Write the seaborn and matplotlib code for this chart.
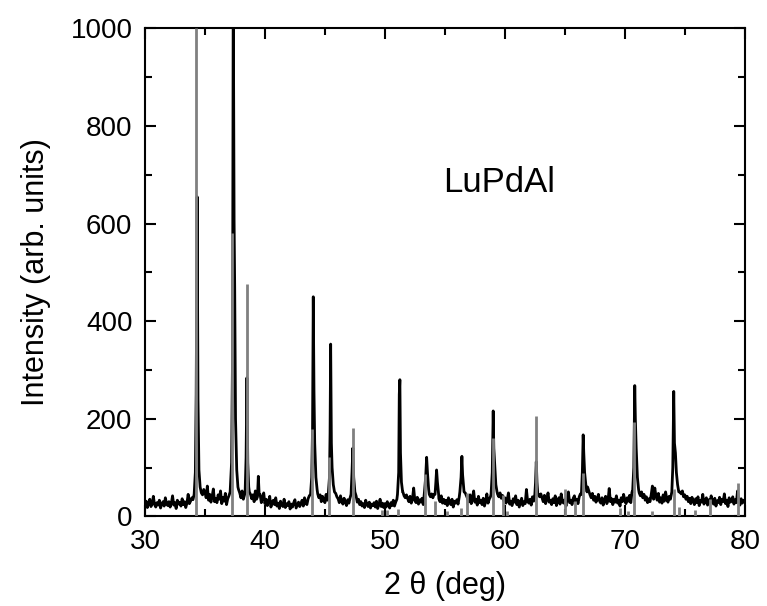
import numpy as np
import pandas as pd
import matplotlib
matplotlib.use("Agg")
import matplotlib.pyplot as plt
import seaborn as sns

# ---------------- data ----------------
# measured background intensity, 0.1 deg steps from 30.0 to 80.0
bg_start, bg_step = 30.0, 0.1
background = [
    22, 31, 18, 27, 35, 20, 26, 41, 24, 19,
    28, 23, 33, 17, 25, 30, 21, 38, 26, 22,
    30, 19, 27, 42, 23, 28, 16, 33, 25, 29,
    21, 36, 24, 30, 18, 27, 45, 26, 31, 38,
    34, 42, 40, 38, 45, 60, 52, 48, 44, 55,
    50, 38, 62, 33, 45, 29, 41, 56, 30, 37,
    28, 44, 35, 52, 26, 39, 31, 47, 24, 36,
    42, 33, 30, 50, 45, 60, 45, 50, 55, 48,
    38, 52, 35, 44, 48, 50, 50, 50, 45, 36,
    44, 30, 52, 35, 40, 60, 45, 28, 37, 48,
    26, 35, 22, 30, 41, 19, 28, 33, 24, 38,
    21, 27, 16, 31, 24, 20, 35, 18, 26, 22,
    30, 15, 25, 19, 28, 34, 17, 23, 29, 20,
    26, 33, 21, 38, 27, 24, 36, 42, 50, 48,
    60, 55, 50, 48, 46, 38, 44, 30, 41, 35,
    28, 45, 33, 39, 40, 48, 50, 60, 52, 47,
    40, 36, 28, 42, 31, 25, 37, 30, 22, 34,
    27, 38, 44, 50, 55, 45, 42, 29, 35, 24,
    30, 21, 26, 18, 33, 24, 20, 29, 17, 25,
    22, 28, 19, 31, 16, 24, 35, 20, 27, 18,
    26, 19, 30, 23, 17, 28, 22, 33, 21, 29,
    35, 48, 45, 40, 42, 50, 42, 38, 44, 36,
    30, 41, 27, 36, 58, 32, 28, 39, 25, 34,
    29, 37, 24, 33, 45, 60, 50, 45, 40, 46,
    38, 45, 42, 50, 48, 36, 30, 42, 27, 35,
    26, 33, 22, 38, 29, 24, 35, 19, 31, 27,
    34, 25, 40, 45, 48, 55, 50, 48, 42, 36,
    30, 44, 26, 38, 52, 29, 35, 23, 41, 28,
    33, 24, 37, 21, 30, 46, 27, 35, 40, 44,
    50, 48, 55, 50, 45, 40, 48, 37, 43, 32,
    38, 27, 34, 48, 25, 31, 22, 36, 29, 42,
    24, 33, 19, 28, 37, 22, 30, 26, 55, 31,
    27, 35, 23, 40, 31, 45, 45, 50, 45, 40,
    46, 38, 30, 43, 26, 35, 48, 29, 33, 24,
    36, 28, 42, 22, 31, 38, 25, 46, 30, 27,
    34, 21, 39, 50, 28, 33, 24, 37, 42, 29,
    35, 26, 40, 46, 48, 50, 50, 48, 45, 60,
    52, 44, 38, 47, 33, 41, 29, 36, 45, 31,
    27, 38, 23, 34, 41, 26, 32, 57, 30, 36,
    24, 35, 29, 42, 27, 33, 21, 38, 30, 45,
    34, 26, 38, 31, 43, 28, 50, 50, 50, 50,
    50, 55, 48, 42, 50, 38, 45, 33, 40, 28,
    36, 30, 44, 62, 35, 58, 41, 33, 47, 29,
    38, 27, 44, 31, 50, 36, 29, 41, 35, 48,
    50, 50, 50, 50, 50, 55, 50, 46, 52, 40,
    44, 35, 41, 30, 37, 26, 39, 32, 24, 36,
    28, 40, 22, 33, 29, 45, 25, 31, 38, 23,
    34, 27, 42, 30, 25, 37, 21, 32, 28, 39,
    24, 35, 30, 46, 26, 33, 20, 38, 29, 31,
    40, 25, 34, 28, 52, 30, 23, 36, 27, 33,
    29,
]

# measured peak profiles (2theta, intensity)
peak_x = [
    [34.10, 34.20, 34.27, 34.35, 34.42, 34.50, 34.60],
    [37.10, 37.22, 37.30, 37.36, 37.43, 37.48, 37.55, 37.65, 37.75],
    [38.35, 38.43, 38.50, 38.57, 38.65],
    [39.38, 39.45, 39.52],
    [43.80, 43.90, 43.97, 44.03, 44.09, 44.15, 44.25, 44.35],
    [45.28, 45.38, 45.43, 45.48, 45.54, 45.60, 45.70, 45.80],
    [47.18, 47.26, 47.33, 47.40, 47.50],
    [51.05, 51.15, 51.20, 51.25, 51.30, 51.38, 51.48],
    [53.30, 53.40, 53.48, 53.55, 53.65],
    [54.18, 54.25, 54.31, 54.38, 54.48],
    [56.25, 56.35, 56.42, 56.48, 56.58],
    [58.85, 58.95, 59.00, 59.03, 59.08, 59.15, 59.25, 59.35],
    [62.50, 62.56, 62.62, 62.68, 62.75],
    [66.38, 66.46, 66.53, 66.58, 66.65, 66.75, 66.85],
    [70.65, 70.75, 70.80, 70.83, 70.88, 70.95, 71.05, 71.15],
    [73.92, 74.00, 74.05, 74.08, 74.14, 74.22, 74.30, 74.40, 74.50],
]
peak_y = [
    [45, 90, 250, 655, 240, 95, 60],
    [50, 110, 330, 1100, 607, 470, 200, 95, 60],
    [50, 120, 284, 110, 60],
    [40, 82, 45],
    [45, 80, 180, 450, 256, 150, 80, 55],
    [45, 80, 170, 353, 150, 100, 65, 50],
    [45, 90, 140, 80, 50],
    [45, 90, 250, 280, 130, 70, 50],
    [50, 80, 121, 90, 55],
    [45, 70, 95, 70, 45],
    [50, 80, 123, 85, 55],
    [45, 90, 170, 216, 140, 110, 65, 50],
    [45, 70, 112, 70, 45],
    [45, 90, 167, 130, 90, 65, 50],
    [50, 100, 200, 268, 200, 140, 80, 55],
    [50, 100, 200, 256, 150, 130, 90, 65, 50],
]

# reference pattern (gray sticks)
ref_pos = [34.23, 37.22, 38.47, 43.89, 45.36, 47.31, 49.72, 50.14, 51.11,
           53.33, 54.17, 55.14, 56.33, 56.81, 58.98, 59.81, 60.14, 62.58,
           65.00, 65.83, 66.53, 69.64, 70.28, 70.78, 72.28, 74.11, 74.50,
           75.83, 77.08, 79.44]
ref_int = [1000, 580, 476, 179, 121, 181, 12, 12, 15,
           87, 32, 10, 17, 48, 160, 44, 10, 205,
           55, 31, 88, 18, 10, 194, 10, 57, 20,
           12, 36, 69]

x_ticks = [30, 40, 50, 60, 70, 80]
y_ticks = [0, 200, 400, 600, 800, 1000]

# ---------------- build measured curve ----------------
bg_x = bg_start + bg_step * np.arange(len(background))
bg_y = np.array(background, dtype=float)
keep = np.ones(len(bg_x), dtype=bool)
for px in peak_x:
    keep &= ~((bg_x >= min(px) - 1e-9) & (bg_x <= max(px) + 1e-9))
xs = np.concatenate([bg_x[keep]] + [np.array(p) for p in peak_x])
ys = np.concatenate([bg_y[keep]] + [np.array(p, dtype=float) for p in peak_y])
order = np.argsort(xs)
df = pd.DataFrame({"two_theta": xs[order], "intensity": ys[order]})

# ---------------- plotting ----------------
sns.set_style("ticks")
plt.rcParams["font.family"] = ["Liberation Sans", "DejaVu Sans"]
plt.rcParams["text.color"] = "black"
plt.rcParams["axes.labelcolor"] = "black"

fig = plt.figure(figsize=(7.67, 6.06), dpi=100)
ax = fig.add_axes([0.189, 0.148, 0.782, 0.805])

sns.lineplot(data=df, x="two_theta", y="intensity", ax=ax, color="black",
             linewidth=2.0, estimator=None, sort=False, zorder=2)
ax.vlines(ref_pos, 0, ref_int, colors="#808080", linewidth=2.0, zorder=3)

ax.set_xlim(30, 80)
ax.set_ylim(0, 1000)
ax.set_xticks(x_ticks)
ax.set_yticks(y_ticks)
ax.set_xticks(np.arange(35, 80, 10), minor=True)
ax.set_yticks(np.arange(100, 1000, 200), minor=True)

ax.tick_params(which="both", direction="in", top=True, right=True,
               width=1.5, colors="black", labelsize=20, pad=9)
ax.tick_params(which="major", length=8)
ax.tick_params(which="minor", length=5)
for s in ax.spines.values():
    s.set_linewidth(1.5)
    s.set_color("black")

ax.set_xlabel("2 θ (deg)", fontsize=22, labelpad=12, color="black")
ax.set_ylabel("Intensity (arb. units)", fontsize=22, labelpad=14, color="black")
ax.text(0.59, 0.685, "LuPdAl", transform=ax.transAxes, fontsize=25,
        ha="center", va="center", color="black")

fig.savefig("out.png", dpi=100)
